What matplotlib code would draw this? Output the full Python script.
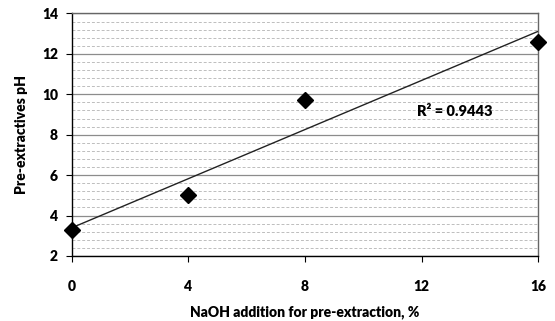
import numpy as np
import matplotlib.pyplot as plt
from matplotlib.ticker import MultipleLocator

# NaOH addition (%) vs pre-extractives pH
naoh = [0, 4, 8, 16]
ph = [3.3, 5.0, 9.7, 12.6]
xticks = [0, 4, 8, 12, 16]
yticks = [2, 4, 6, 8, 10, 12, 14]

plt.rcParams['font.family'] = ['Lato', 'DejaVu Sans']
W = 'heavy'

fig = plt.figure(figsize=(5.55, 3.21), dpi=100)
ax = fig.add_axes([0.1297, 0.2025, 0.8397, 0.7555])

# linear trendline + R^2
slope, icpt = np.polyfit(naoh, ph, 1)
pred = np.polyval([slope, icpt], naoh)
r2 = 1 - np.sum((np.array(ph) - pred) ** 2) / np.sum((np.array(ph) - np.mean(ph)) ** 2)
xl = np.array([naoh[0], naoh[-1]])
ax.plot(xl, slope * xl + icpt, color='#222222', lw=1.0, zorder=3)

ax.plot(naoh, ph, 'D', color='black', ms=7.8, zorder=4, clip_on=False)

ax.text(11.85, 9.15, 'R\u00b2 = %.4f' % r2, fontsize=10.5, fontweight=W, ha='left', va='center')

ax.set_xlim(0, 16)
ax.set_ylim(2, 14)
ax.set_xticks(xticks)
ax.set_yticks(yticks)
ax.yaxis.set_minor_locator(MultipleLocator(0.4))
ax.grid(True, which='major', axis='y', color='#8c8c8c', lw=0.9)
ax.grid(True, which='minor', axis='y', color='#bdbdbd', lw=0.7, ls=(0, (3, 2)))
ax.set_axisbelow(True)

ax.tick_params(axis='x', length=4, pad=13, labelsize=10, direction='out', color='black')
ax.tick_params(axis='y', length=4, pad=6, labelsize=10, direction='out', color='black')
ax.tick_params(which='minor', length=0)
for lab in ax.get_xticklabels() + ax.get_yticklabels():
    lab.set_fontweight(W)

ax.spines['left'].set_color('black')
ax.spines['bottom'].set_color('black')
ax.spines['right'].set_color('#666666')
ax.spines['top'].set_color('#666666')
for s in ax.spines.values():
    s.set_linewidth(1.0)

ax.set_xlabel('NaOH addition for pre-extraction, %', fontsize=10, fontweight=W, labelpad=9)
ax.set_ylabel('Pre-extractives pH', fontsize=10, fontweight=W, labelpad=10)

fig.savefig('out.png', dpi=100)
